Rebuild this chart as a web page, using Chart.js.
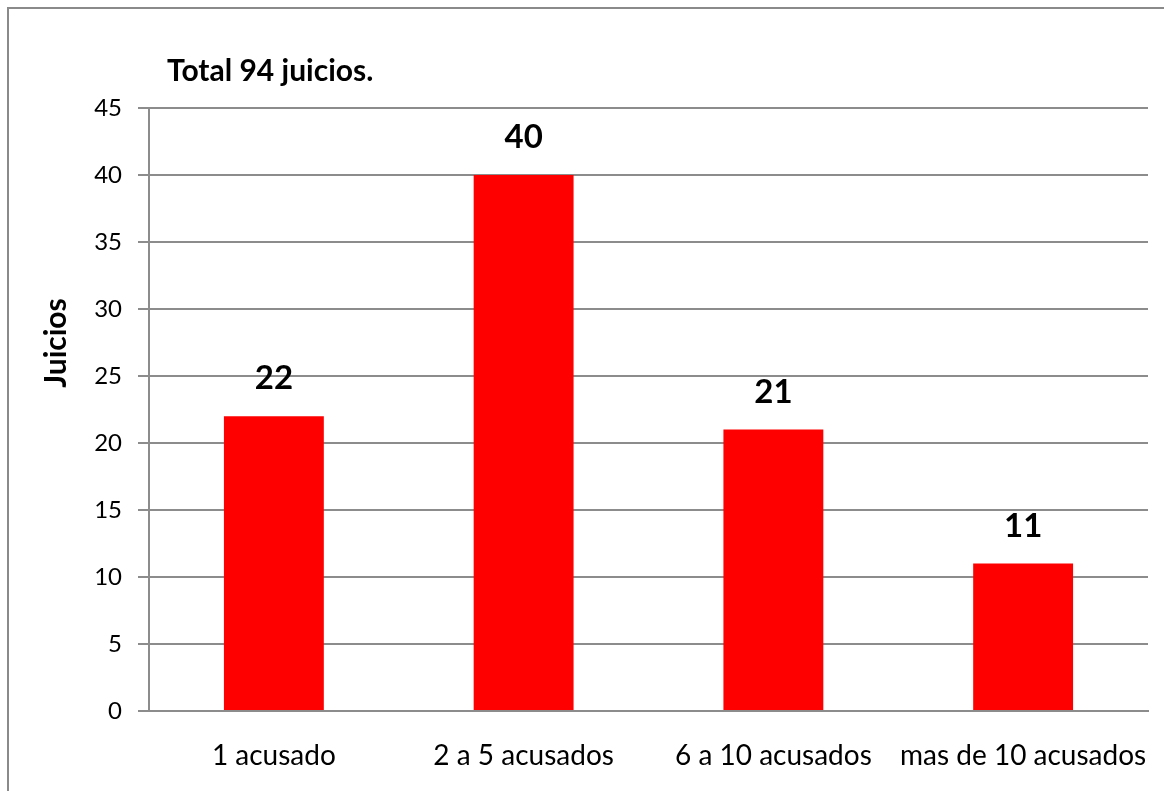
<!DOCTYPE html>
<html><head><meta charset="utf-8">
<script src="https://cdn.jsdelivr.net/npm/chart.js@4/dist/chart.umd.min.js"></script>
<style>html,body{margin:0;padding:0;background:#fff;overflow:hidden}#wrap{width:1164px;height:791px;position:relative}</style>
</head><body><div id="wrap"><canvas id="c" width="1164" height="791"></canvas></div>
<script>
const categories = ["1 acusado", "2 a 5 acusados", "6 a 10 acusados", "mas de 10 acusados"];
const juicios = [22, 40, 21, 11];
const yTickMin = 0, yTickMax = 45, yTickStep = 5;
const titleText = "Total 94 juicios.";
const yAxisTitle = "Juicios";

const FONT = "Lato, 'Open Sans', sans-serif";
const GRID = "#8c8c8c";

const framePlugin = {
  id: 'frame',
  beforeDraw(chart) {
    const ctx = chart.ctx;
    ctx.save();
    ctx.fillStyle = '#fff';
    ctx.fillRect(0, 0, chart.width, chart.height);
    ctx.strokeStyle = '#8a8a8a';
    ctx.lineWidth = 2;
    ctx.beginPath();
    ctx.moveTo(8, chart.height);
    ctx.lineTo(8, 8);
    ctx.lineTo(chart.width, 8);
    ctx.stroke();
    ctx.restore();
  }
};

const textPlugin = {
  id: 'texts',
  afterDatasetsDraw(chart) {
    const ctx = chart.ctx;
    const area = chart.chartArea;
    ctx.save();
    // value labels
    ctx.fillStyle = '#000';
    ctx.font = "bold 33px " + FONT;
    ctx.textAlign = 'center';
    ctx.textBaseline = 'alphabetic';
    const meta = chart.getDatasetMeta(0);
    meta.data.forEach((bar, i) => {
      ctx.fillText(String(chart.data.datasets[0].data[i]), bar.x, bar.y - 27);
    });
    // chart title
    ctx.font = "bold 30px " + FONT;
    ctx.textAlign = 'left';
    ctx.fillText(titleText, area.left + 18, 81);
    // y axis title
    ctx.translate(66, 343);
    ctx.rotate(-Math.PI / 2);
    ctx.textAlign = 'center';
    ctx.font = "bold 30px " + FONT;
    ctx.fillText(yAxisTitle, 0, 0);
    ctx.restore();
  }
};

new Chart(document.getElementById('c'), {
  type: 'bar',
  data: {
    labels: categories,
    datasets: [{
      data: juicios,
      backgroundColor: '#ff0000',
      borderWidth: 0,
      barPercentage: 0.4,
      categoryPercentage: 1.0
    }]
  },
  options: {
    responsive: false,
    animation: false,
    devicePixelRatio: 1,
    layout: { padding: { top: 108, right: 16, left: 0, bottom: 0 } },
    plugins: { legend: { display: false }, tooltip: { enabled: false }, title: { display: false } },
    scales: {
      x: {
        grid: { display: false, drawTicks: true, tickLength: 24 },
        border: { display: true, color: GRID, width: 2 },
        ticks: { color: '#000', font: { family: FONT, size: 28 }, padding: 4, maxRotation: 0, autoSkip: false },
        afterFit(scale) { scale.height = 80; }
      },
      y: {
        min: yTickMin, max: yTickMax,
        ticks: { stepSize: yTickStep, color: '#000', font: { family: FONT, size: 24 }, padding: 16 },
        grid: { color: GRID, lineWidth: 2, tickLength: 11, drawTicks: true },
        border: { display: true, color: GRID, width: 2 },
        afterFit(scale) { scale.width = 149; }
      }
    }
  },
  plugins: [framePlugin, textPlugin]
});
</script>
</body></html>
